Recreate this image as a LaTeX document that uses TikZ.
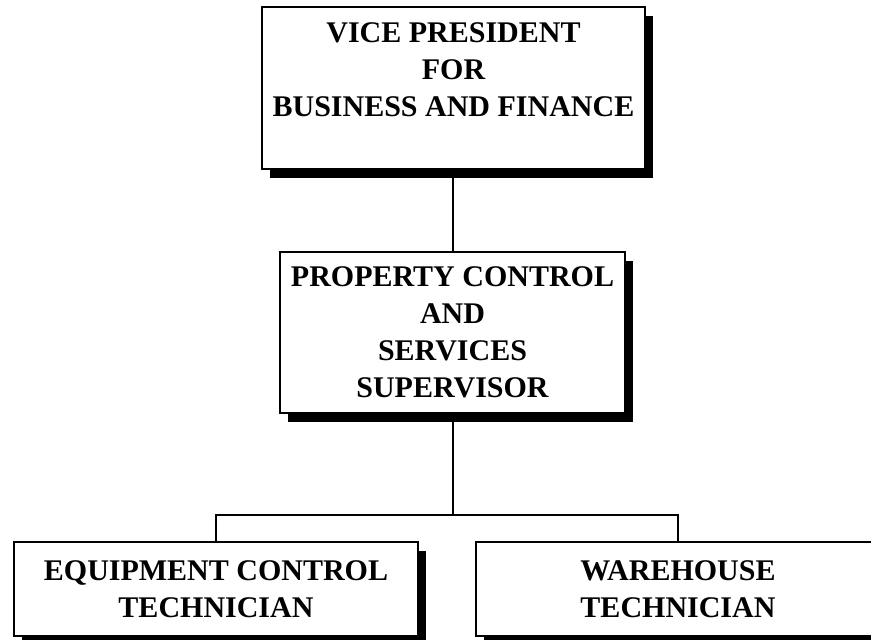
\documentclass[tikz,border=0pt]{standalone}
\usepackage{fontspec}
\setmainfont{Liberation Serif}
\usetikzlibrary{shadows}

\tikzset{
	postbox/.style={draw, fill=white, line width=2pt, align=center,
		font=\fontsize{30pt}{37pt}\selectfont\bfseries, inner sep=0pt,
		drop shadow={shadow xshift=8pt, shadow yshift=-9pt, fill=black, opacity=1}},
	link/.style={line width=2pt}
}

\begin{document}
\begin{tikzpicture}[x=1pt, y=-1pt]
	\useasboundingbox[fill=white] (0,0) rectangle (871,640);

	\node[postbox, minimum width=383pt, minimum height=162pt] (vp) at (453.5,88)
		{VICE PRESIDENT\\FOR\\BUSINESS AND FINANCE\\~};
	\node[postbox, minimum width=345pt, minimum height=161pt] (pcs) at (452.5,332.5)
		{PROPERTY CONTROL\\AND\\SERVICES\\SUPERVISOR};
	\node[postbox, minimum width=404pt, minimum height=94pt] (ect) at (216,589)
		{EQUIPMENT CONTROL\\TECHNICIAN};
	\node[postbox, minimum width=404pt, minimum height=94pt] (wt) at (678,589)
		{WAREHOUSE\\TECHNICIAN};

	\coordinate (bar) at (452.5,515);

	\draw[link] (pcs.north) -- (pcs.north |- vp.south);
	\draw[link] (pcs.south) -- (bar);
	\draw[link] (ect.north) |- (bar) -| (wt.north);
\end{tikzpicture}
\end{document}
